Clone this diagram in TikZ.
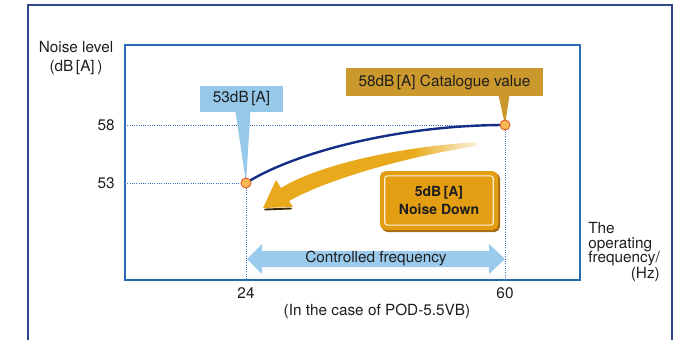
\documentclass[tikz,border=0pt]{standalone}
\usepackage{fontspec}
\setmainfont{TeX Gyre Heros}
\usepackage{tikz}
\usetikzlibrary{calc, positioning, arrows.meta}

\definecolor{framenavy}{RGB}{50,70,140}
\definecolor{boxblue}{RGB}{40,105,175}
\definecolor{guideblue}{RGB}{60,110,190}
\definecolor{curvenavy}{RGB}{20,45,135}
\definecolor{calloutblue}{RGB}{150,200,233}
\definecolor{calloutgold}{RGB}{203,152,45}
\definecolor{downgold}{RGB}{228,158,20}
\definecolor{downshade}{RGB}{170,110,20}
\definecolor{arrowgold}{RGB}{232,170,28}
\definecolor{arrowshade}{RGB}{60,40,10}
\definecolor{freqblue}{RGB}{155,203,236}
\definecolor{dotfill}{RGB}{250,185,85}
\definecolor{dotedge}{RGB}{220,95,40}
\definecolor{txtgray}{RGB}{30,30,30}

\pgfdeclareverticalshading{goldfade}{100bp}{color(0bp)=(white); color(25bp)=(white!85!arrowgold);
  color(40bp)=(arrowgold); color(100bp)=(arrowgold)}

\begin{document}
\begin{tikzpicture}[x=0.75pt,y=0.75pt,yscale=-1,xscale=1,
  lbl/.style={inner sep=0.75pt, text=txtgray, font=\fontsize{11.5}{14}\selectfont},
  callout/.style={lbl, inner sep=0pt, minimum height=19.5pt},
  guide/.style={color=guideblue, densely dotted, line width=0.7pt},
  ptdot/.style={circle, fill=dotfill, draw=dotedge, line width=0.7pt, minimum size=7.5pt, inner sep=0pt}]
  \useasboundingbox (0,0) rectangle (684,340);

  %Outer frame
  \draw [color=framenavy, line width=0.9pt] (28,340) -- (28,5) -- (672,5) -- (672,340);
  %Plot box
  \draw [color=boxblue, line width=1.1pt] (125,45) rectangle (580,280);

  %Points of the curve
  \coordinate (q24) at (246,183);
  \coordinate (q58) at (505,125);
  \coordinate (ax53) at (125,183);
  \coordinate (ax58) at (125,125);
  \coordinate (bt24) at (246,280);
  \coordinate (bt60) at (505,280);

  %Dotted guides
  \draw [guide] (ax58) -- (q58);
  \draw [guide] (ax53) -- (q24);
  \draw [guide] (q24) -- (bt24);
  \draw [guide] (q58) -- (bt60);

  %Controlled frequency arrow
  \fill [color=freqblue] (247,259) -- (262,244) -- (262,251) -- (489,251) -- (489,244) -- (505,259)
        -- (489,274) -- (489,267) -- (262,267) -- (262,274) -- cycle;
  \node [lbl] (ctrl) at (376,258) {Controlled frequency};

  %Noise down arrow
  \draw [color=arrowshade, line width=1.4pt, line cap=round] (265,209.5) -- (291,208.5);
  \shade [shading=goldfade, shading angle=90]
        (477,142) .. controls (400,147) and (320,164) .. (281,188) -- (276,180) -- (263,208)
        -- (293,207) -- (289,201) .. controls (330,178) and (410,156) .. (477,146) -- cycle;

  %Noise curve
  \draw [color=curvenavy, line width=1.8pt] (q24) .. controls (295,152) and (400,125) .. (q58);

  %Callouts
  \node [callout, fill=calloutblue, minimum width=62.25pt] (c53) at (241.5,99) {53dB\,[A]};
  \fill [color=calloutblue] ($(c53.south)+(-6,-1)$) -- ($(c53.south)+(9,-1)$) -- (q24);
  \node [callout, fill=calloutgold, minimum width=148pt, minimum height=21pt] (c58) at (444.5,82) {58dB\,[A] Catalogue value};
  \fill [color=calloutgold] ($(c58.south)+(54,-1)$) -- ($(c58.south)+(65,-1)$) -- (q58);

  %Points
  \node [ptdot] (p24) at (q24) {};
  \node [ptdot] (p58) at (q58) {};

  %Noise down box
  \fill [color=downshade, rounded corners=4pt] (382,173) rectangle (500,232);
  \node [fill=downgold, rounded corners=4pt, minimum width=88.5pt, minimum height=44pt, inner sep=0pt,
         align=center, text=txtgray, font=\fontsize{10.5}{14}\selectfont\bfseries] (down) at (439,200.5) {5dB\,[A]\\Noise Down};
  \draw [color=white!85!downgold, line width=0.8pt, rounded corners=2pt]
        ($(down.north west)+(5,5)$) rectangle ($(down.south east)+(-5,-5)$);

  % Text Node
  \node [lbl, align=center, anchor=north] (ylab) at (76,40) {Noise level\\(dB\,[A]\,)};
  % Text Node
  \node [lbl, anchor=east] (t58) at (116,125) {58};
  % Text Node
  \node [lbl, anchor=east] (t53) at (116,183) {53};
  % Text Node
  \node [lbl] (t24) at (246,293) {24};
  % Text Node
  \node [lbl] (t60) at (505,293) {60};
  % Text Node
  \node [lbl] (model) at (377,311) {(In the case of POD-5.5VB)};
  % Text Node
  \node [lbl, anchor=north west, align=left, font=\fontsize{11.5}{11}\selectfont] (xlab) at (587,221)
        {The\\operating\\frequency/};
  \node [lbl, below left=-1pt and 0pt of xlab.south east, anchor=north east] (xunit) {(Hz)};
\end{tikzpicture}
\end{document}
